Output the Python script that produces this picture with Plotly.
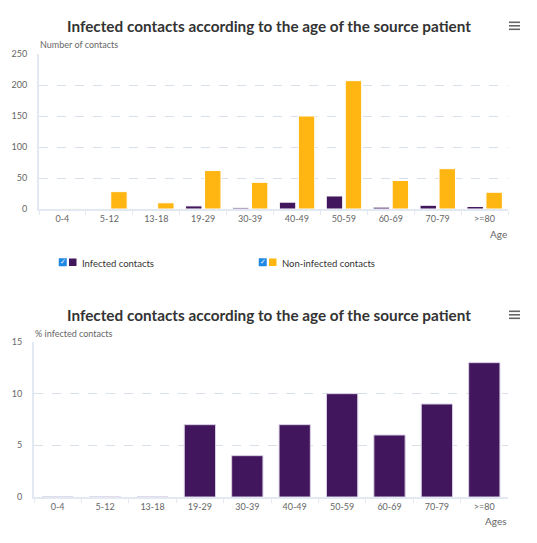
import plotly.graph_objects as go

categories = ["0-4", "5-12", "13-18", "19-29", "30-39", "40-49", "50-59", "60-69", "70-79", ">=80"]
infected = [0, 0, 0, 5, 2, 11, 21, 3, 6, 4]
non_infected = [1, 28, 10, 62, 43, 150, 207, 46, 65, 27]
pct_infected = [0, 0, 0, 7, 4, 7, 10, 6, 9, 13]

title_text = "Infected contacts according to the age of the source patient"
PURPLE = "#42165c"
ORANGE = "#ffb612"
OFF = 8  # default page body margin
W, H = 537 - 2 * OFF, 543 - 2 * OFF
FONT = "Lato"

def px(x):
    return (x - OFF) / W

def py(y):
    return 1 - (y - OFF) / H

fig = go.Figure()
fig.add_trace(go.Bar(x=categories, y=infected, name="Infected contacts",
                     marker=dict(color=PURPLE, line=dict(color="#ffffff", width=1)),
                     width=0.35, offset=-0.375, xaxis="x", yaxis="y"))
fig.add_trace(go.Bar(x=categories, y=non_infected, name="Non-infected contacts",
                     marker=dict(color=ORANGE, line=dict(color="#ffffff", width=1)),
                     width=0.35, offset=0.03, xaxis="x", yaxis="y"))
fig.add_trace(go.Bar(x=categories, y=pct_infected, name="% infected",
                     marker=dict(color=PURPLE, line=dict(color="#d9d0e3", width=1)),
                     width=0.66, offset=-0.33, xaxis="x2", yaxis="y2", showlegend=False))

axis_common = dict(
    showgrid=False, showline=True, linecolor="#e3e9f3", linewidth=1.5,
    ticks="outside", tickcolor="#e3e9f3", ticklen=4, tickson="boundaries",
    tickfont=dict(family=FONT, size=9, color="#666666"), fixedrange=True,
    automargin=False,
)
yaxis_common = dict(
    showgrid=True, gridcolor="#d8e0ec", griddash="dash", gridwidth=1,
    showline=True, linecolor="#e3e9f3", linewidth=2, zeroline=False,
    ticks="", tickfont=dict(family=FONT, size=9, color="#666666"),
    ticklabelstandoff=8, fixedrange=True, automargin=False,
)

fig.update_layout(
    width=W, height=H, autosize=False,
    margin=dict(l=0, r=0, t=0, b=0, pad=0, autoexpand=False),
    paper_bgcolor="#ffffff", plot_bgcolor="#ffffff",
    showlegend=False,
    barmode="overlay",
    xaxis=dict(domain=[px(39), px(508)], anchor="y", **axis_common),
    yaxis=dict(domain=[py(209), py(54)], anchor="x", range=[0, 250], dtick=50, **yaxis_common),
    xaxis2=dict(domain=[px(34), px(508)], anchor="y2", **axis_common),
    yaxis2=dict(domain=[py(497), py(342)], anchor="x2", range=[0, 15], dtick=5, **yaxis_common),
)

annotations = []
for ty in (26, 315):
    annotations.append(dict(text="<b>" + title_text + "</b>", x=px(268.5), y=py(26 if ty == 26 else 315),
                            xref="paper", yref="paper", xanchor="center", yanchor="middle",
                            showarrow=False, font=dict(family=FONT, size=15.3, color="#333333")))
annotations += [
    dict(text="Number of contacts", x=px(38), y=py(45), xref="paper", yref="paper",
         xanchor="left", yanchor="middle", showarrow=False,
         font=dict(family=FONT, size=9, color="#666666")),
    dict(text="% infected contacts", x=px(33), y=py(333), xref="paper", yref="paper",
         xanchor="left", yanchor="middle", showarrow=False,
         font=dict(family=FONT, size=9, color="#666666")),
    dict(text="Age", x=px(509), y=py(234), xref="paper", yref="paper",
         xanchor="right", yanchor="middle", showarrow=False,
         font=dict(family=FONT, size=10, color="#666666")),
    dict(text="Ages", x=px(509), y=py(521), xref="paper", yref="paper",
         xanchor="right", yanchor="middle", showarrow=False,
         font=dict(family=FONT, size=10, color="#666666")),
]

shapes = []
legend_items = [("Infected contacts", PURPLE, 59), ("Non-infected contacts", ORANGE, 259)]
for name, col, x0 in legend_items:
    shapes.append(dict(type="rect", xref="paper", yref="paper",
                       x0=px(x0), x1=px(x0 + 7.5), y0=py(266), y1=py(258.5),
                       fillcolor="#1e88e5", line=dict(color="#1e88e5", width=0.5)))
    annotations.append(dict(text="✓", x=px(x0 + 3.8), y=py(262.3), xref="paper", yref="paper",
                            xanchor="center", yanchor="middle", showarrow=False,
                            font=dict(family="DejaVu Sans", size=7, color="#ffffff")))
    shapes.append(dict(type="rect", xref="paper", yref="paper",
                       x0=px(x0 + 10), x1=px(x0 + 17.5), y0=py(266), y1=py(258.5),
                       fillcolor=col, line=dict(width=0)))
    annotations.append(dict(text=name, x=px(x0 + 20.5), y=py(263), xref="paper", yref="paper",
                            xanchor="left", yanchor="middle", showarrow=False,
                            font=dict(family=FONT, size=9.5, color="#333333")))

for base in (0, 289):
    for ly in (22.3, 25.8, 29.3):
        shapes.append(dict(type="line", xref="paper", yref="paper",
                           x0=px(509), x1=px(520), y0=py(ly + base), y1=py(ly + base),
                           line=dict(color="#666666", width=1.6)))

fig.update_layout(annotations=annotations, shapes=shapes)
fig.write_html("out.html")
